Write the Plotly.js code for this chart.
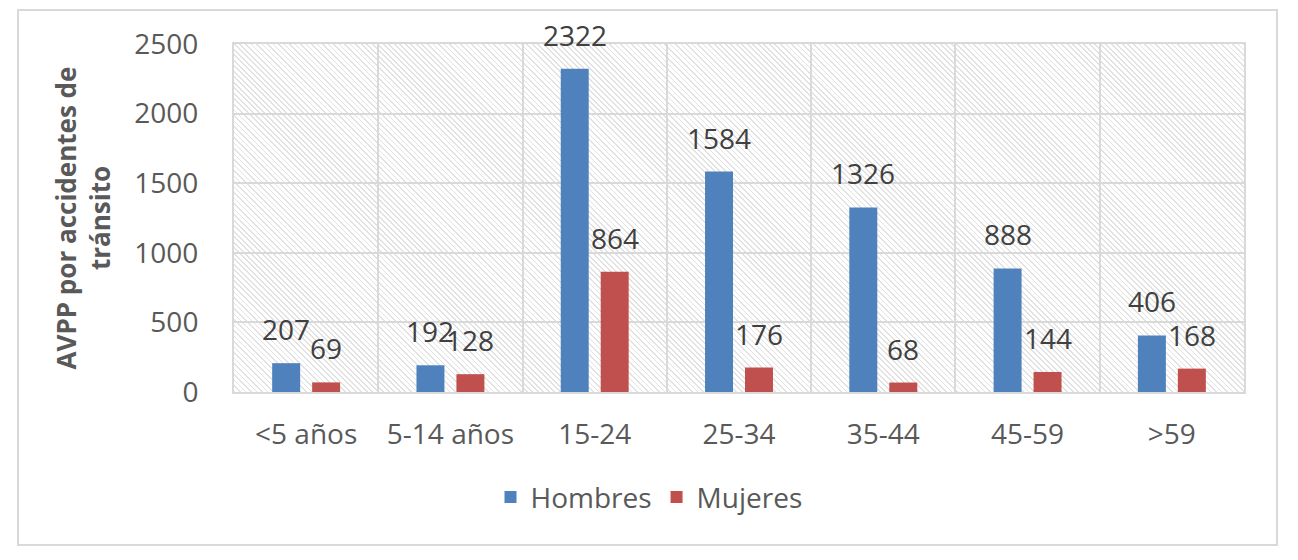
<!DOCTYPE html>
<html>
<head>
<meta charset="utf-8">
<script src="https://cdn.plot.ly/plotly-3.0.1.min.js"></script>
<style>
  body { margin: 0; background: #fff; }
  #wrap { position: relative; width: 1298px; height: 560px; }
  #hatch {
    position: absolute;
    background: repeating-linear-gradient(45deg, #e2e2e2 0 1.2px, #ffffff 1.2px 3.9px);
  }
  #chart { position: absolute; left: 0; top: 0; width: 1298px; height: 560px; }
  #frame {
    position: absolute; left: 17px; top: 9px; width: 1261px; height: 537px;
    border: 2px solid #d9d9d9; box-sizing: border-box; pointer-events: none;
  }
</style>
</head>
<body>
<div id="wrap">
  <div id="hatch"></div>
  <div id="chart"></div>
  <div id="frame"></div>
</div>
<script>
// data
const ageGroups = ['<5 años', '5-14 años', '15-24', '25-34', '35-44', '45-59', '>59'];
const hombres = [207, 192, 2322, 1584, 1326, 888, 406];
const mujeres = [69, 128, 864, 176, 68, 144, 168];
const yTicks = [0, 500, 1000, 1500, 2000, 2500];

const blue = '#4F81BD';
const red = '#C0504D';
const axisGrey = '#595959';
const labelGrey = '#404040';
const fontFam = '"Open Sans", "Liberation Sans", sans-serif';

const margin = { l: 234, r: 54, t: 44, b: 168, pad: 0 };
const W = 1298, H = 560;
const bargap = 0.446;

// hatch behind the plot area (plotly has no patterned plot_bgcolor)
const hatch = document.getElementById('hatch');
hatch.style.left = margin.l + 'px';
hatch.style.top = margin.t + 'px';
hatch.style.width = (W - margin.l - margin.r) + 'px';
hatch.style.height = (H - margin.t - margin.b) + 'px';

// labels sit over each bar of the group
const catWidth = (W - margin.l - margin.r) / ageGroups.length;
const slot = catWidth * (1 - bargap) / 2;

const labelFor = (vals, shift) => vals.map((v, i) => ({
  x: ageGroups[i],
  y: v,
  text: String(v),
  xref: 'x',
  yref: 'y',
  xshift: shift,
  yshift: 34,
  yanchor: 'middle',
  showarrow: false,
  font: { size: 28, color: labelGrey, family: fontFam }
}));

const traces = [
  { type: 'bar', name: 'Hombres', x: ageGroups, y: hombres, marker: { color: blue } },
  { type: 'bar', name: 'Mujeres', x: ageGroups, y: mujeres, marker: { color: red } }
];

const layout = {
  width: W,
  height: H,
  margin: margin,
  paper_bgcolor: 'rgba(0,0,0,0)',
  plot_bgcolor: 'rgba(0,0,0,0)',
  font: { family: fontFam, size: 28, color: axisGrey },
  barmode: 'group',
  bargap: bargap,
  bargroupgap: 0.3,
  showlegend: true,
  legend: {
    orientation: 'h',
    xref: 'container',
    yref: 'container',
    x: 0.5,
    xanchor: 'center',
    y: 0.112,
    yanchor: 'middle',
    font: { size: 28, color: axisGrey, family: fontFam },
    itemwidth: 30,
    traceorder: 'normal'
  },
  xaxis: {
    type: 'category',
    tickson: 'boundaries',
    ticks: '',
    showgrid: true,
    gridcolor: '#d9d9d9',
    gridwidth: 2,
    showline: true,
    mirror: true,
    linecolor: '#d9d9d9',
    linewidth: 2,
    ticklabelstandoff: 16,
    tickfont: { size: 28, color: axisGrey },
    fixedrange: true
  },
  yaxis: {
    range: [0, 2500],
    tickvals: yTicks,
    ticks: '',
    showgrid: true,
    gridcolor: '#d9d9d9',
    gridwidth: 2,
    zeroline: false,
    showline: true,
    mirror: true,
    linecolor: '#d9d9d9',
    linewidth: 2,
    ticklabelstandoff: 28,
    tickfont: { size: 28, color: axisGrey },
    title: {
      text: 'AVPP por accidentes de<br>tránsito',
      font: { size: 26, color: axisGrey, family: fontFam, weight: 'bold' },
      standoff: 16
    },
    fixedrange: true
  },
  annotations: labelFor(hombres, -slot / 2).concat(labelFor(mujeres, slot / 2))
};

Plotly.newPlot('chart', traces, layout, { displayModeBar: false, staticPlot: true });
</script>
</body>
</html>
